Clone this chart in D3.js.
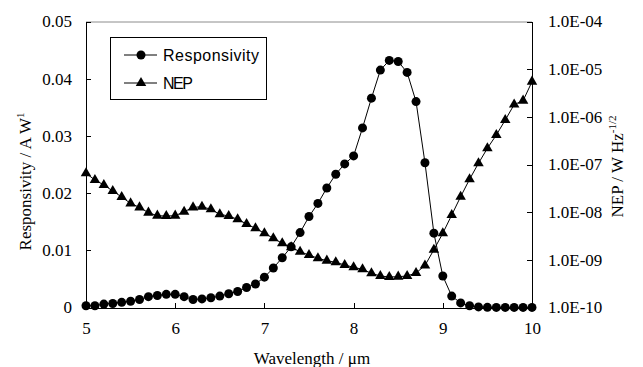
<!DOCTYPE html>
<html>
<head>
<meta charset="utf-8">
<script src="https://cdn.jsdelivr.net/npm/d3@7"></script>
<style>
  body { margin: 0; background: #fff; }
  svg { display: block; }
  .axis path, .axis line { stroke: #000; stroke-width: 1px; shape-rendering: crispEdges; }
</style>
</head>
<body>
<div id="chart"></div>
<script>
// data
const wavelength = [5.0, 5.1, 5.2, 5.3, 5.4, 5.5, 5.6, 5.7, 5.8, 5.9,
  6.0, 6.1, 6.2, 6.3, 6.4, 6.5, 6.6, 6.7, 6.8, 6.9,
  7.0, 7.1, 7.2, 7.3, 7.4, 7.5, 7.6, 7.7, 7.8, 7.9,
  8.0, 8.1, 8.2, 8.3, 8.4, 8.5, 8.6, 8.7, 8.8, 8.9,
  9.0, 9.1, 9.2, 9.3, 9.4, 9.5, 9.6, 9.7, 9.8, 9.9, 10.0];

const responsivity = [0.0003, 0.0003, 0.0006, 0.0007, 0.0009, 0.0011, 0.0014, 0.0019, 0.0021, 0.0023,
  0.0023, 0.0019, 0.0014, 0.0015, 0.0017, 0.0020, 0.0024, 0.0028, 0.0035, 0.0041,
  0.0053, 0.0069, 0.0087, 0.0106, 0.0131, 0.0159, 0.0182, 0.0209, 0.0233, 0.0251,
  0.0265, 0.0314, 0.0366, 0.0415, 0.0432, 0.0430, 0.0411, 0.0360, 0.0253, 0.0130,
  0.0055, 0.0020, 0.0008, 0.0003, 0.0001, 0.00003, 0.00002, 0.00002, 0.00002, 0.00002, 0.00002];

const nep = [6.53e-8, 4.73e-8, 3.72e-8, 2.78e-8, 2.08e-8, 1.53e-8, 1.26e-8, 9.75e-9, 8.43e-9, 8.30e-9,
  8.43e-9, 1.02e-8, 1.26e-8, 1.30e-8, 1.15e-8, 9.02e-9, 8.30e-9, 7.08e-9, 5.65e-9, 4.58e-9,
  3.61e-9, 2.83e-9, 2.22e-9, 1.83e-9, 1.48e-9, 1.26e-9, 1.08e-9, 9.59e-10, 8.87e-10, 7.80e-10,
  6.97e-10, 6.32e-10, 5.21e-10, 4.58e-10, 4.37e-10, 4.43e-10, 4.58e-10, 5.30e-10, 7.60e-10, 1.63e-9,
  3.61e-9, 8.71e-9, 2.11e-8, 4.89e-8, 1.06e-7, 2.19e-7, 4.16e-7, 8.57e-7, 1.81e-6, 2.18e-6, 5.46e-6];

const xTicks = [5, 6, 7, 8, 9, 10];
const leftTicks = [0, 0.01, 0.02, 0.03, 0.04, 0.05];
const leftTickLabels = ["0", "0.01", "0.02", "0.03", "0.04", "0.05"];
const rightTicks = [1e-10, 1e-9, 1e-8, 1e-7, 1e-6, 1e-5, 1e-4];
const rightTickLabels = ["1.0E-10", "1.0E-09", "1.0E-08", "1.0E-07", "1.0E-06", "1.0E-05", "1.0E-04"];
const seriesNames = ["Responsivity", "NEP"];

const W = 643, H = 367;
const margin = {left: 86, right: 111, top: 21.5, bottom: 59.5},
    width = W - margin.left - margin.right,
    height = H - margin.top - margin.bottom;

const serif = '"Liberation Serif", "Times New Roman", serif';

const svg = d3.select("#chart")
    .append("svg")
    .attr("width", W)
    .attr("height", H)
    .append("g")
    .attr("transform", "translate(" + margin.left + "," + margin.top + ")");

const x = d3.scaleLinear().domain([5, 10]).range([0, width]);
const yL = d3.scaleLinear().domain([0, 0.05]).range([height, 0]);
const yR = d3.scaleLog().domain([1e-10, 1e-4]).range([height, 0]);

// top border of plot area (gray)
svg.append("line")
    .attr("x1", 0).attr("x2", width)
    .attr("y1", 0.5).attr("y2", 0.5)
    .attr("stroke", "#8c8c8c")
    .attr("stroke-width", 1);

function styleTicks(g) {
    g.selectAll("text")
        .style("font-family", serif)
        .style("font-size", "17px")
        .attr("fill", "#000");
}

// x axis
svg.append("g")
    .attr("class", "axis")
    .attr("transform", "translate(0," + height + ")")
    .call(d3.axisBottom(x).tickValues(xTicks).tickFormat(d3.format("d")).tickSizeInner(-5).tickSizeOuter(0).tickPadding(14))
    .call(styleTicks);

// left axis
svg.append("g")
    .attr("class", "axis")
    .call(d3.axisLeft(yL).tickValues(leftTicks)
        .tickFormat((d, i) => leftTickLabels[i])
        .tickSizeInner(-5).tickSizeOuter(0).tickPadding(14))
    .call(styleTicks);

// right axis
svg.append("g")
    .attr("class", "axis")
    .attr("transform", "translate(" + width + ",0)")
    .call(d3.axisRight(yR).tickValues(rightTicks)
        .tickFormat((d, i) => rightTickLabels[i])
        .tickSizeInner(-5).tickSizeOuter(0).tickPadding(16))
    .call(styleTicks);

// axis titles
svg.append("text")
    .attr("x", width / 2 + 3)
    .attr("y", height + 56)
    .attr("text-anchor", "middle")
    .style("font-family", serif)
    .style("font-size", "17px")
    .text("Wavelength / μm");

const lt = svg.append("text")
    .attr("transform", "translate(" + (-55) + "," + (height / 2 + 17) + ") rotate(-90)")
    .attr("text-anchor", "middle")
    .style("font-family", serif)
    .style("font-size", "17px");
lt.append("tspan").text("Responsivity / A W");
lt.append("tspan").attr("dy", -7).style("font-size", "11px").text("1");

const rt = svg.append("text")
    .attr("transform", "translate(" + (width + 91) + "," + (height / 2 + 2) + ") rotate(-90)")
    .attr("text-anchor", "middle")
    .style("font-family", serif)
    .style("font-size", "17px");
rt.append("tspan").text("NEP / W Hz");
rt.append("tspan").attr("dy", -7).style("font-size", "11px").text("-1/2");

const data = wavelength.map((w, i) => ({w: w, r: responsivity[i], n: nep[i]}));

// responsivity line
svg.append("path")
    .datum(data)
    .attr("fill", "none")
    .attr("stroke", "#000")
    .attr("stroke-width", 1)
    .attr("d", d3.line().x(d => x(d.w)).y(d => yL(d.r)));

// NEP line
svg.append("path")
    .datum(data)
    .attr("fill", "none")
    .attr("stroke", "#000")
    .attr("stroke-width", 1)
    .attr("d", d3.line().x(d => x(d.w)).y(d => yR(d.n)));

const tri = d3.symbol().type(d3.symbolTriangle).size(48);

svg.append("g")
    .selectAll("path")
    .data(data)
    .enter().append("path")
    .attr("d", tri)
    .attr("transform", d => "translate(" + x(d.w) + "," + yR(d.n) + ")")
    .attr("fill", "#000");

svg.append("g")
    .selectAll("circle")
    .data(data)
    .enter().append("circle")
    .attr("cx", d => x(d.w))
    .attr("cy", d => yL(d.r))
    .attr("r", 4.5)
    .attr("fill", "#000");

// legend
const lg = svg.append("g").attr("transform", "translate(" + (110 - margin.left) + "," + (37 - margin.top) + ")");
lg.append("rect")
    .attr("x", 0.5).attr("y", 0.5)
    .attr("width", 156).attr("height", 62)
    .attr("fill", "#fff")
    .attr("stroke", "#000")
    .attr("stroke-width", 1);

seriesNames.forEach(function (name, i) {
    const yy = 18 + i * 28;
    lg.append("line")
        .attr("x1", 14).attr("x2", 47)
        .attr("y1", yy).attr("y2", yy)
        .attr("stroke", "#000");
    if (i === 0) {
        lg.append("circle").attr("cx", 31).attr("cy", yy).attr("r", 4.5).attr("fill", "#000");
    } else {
        lg.append("path").attr("d", tri).attr("transform", "translate(31," + yy + ")").attr("fill", "#000");
    }
    lg.append("text")
        .attr("x", 53)
        .attr("y", yy)
        .attr("dy", "0.35em")
        .attr("textLength", i === 0 ? 96 : 30)
        .attr("lengthAdjust", "spacing")
        .style("font-family", '"Liberation Sans Narrow", "Liberation Sans", Arial, sans-serif')
        .style("font-size", "16px")
        .text(name);
});
</script>
</body>
</html>
